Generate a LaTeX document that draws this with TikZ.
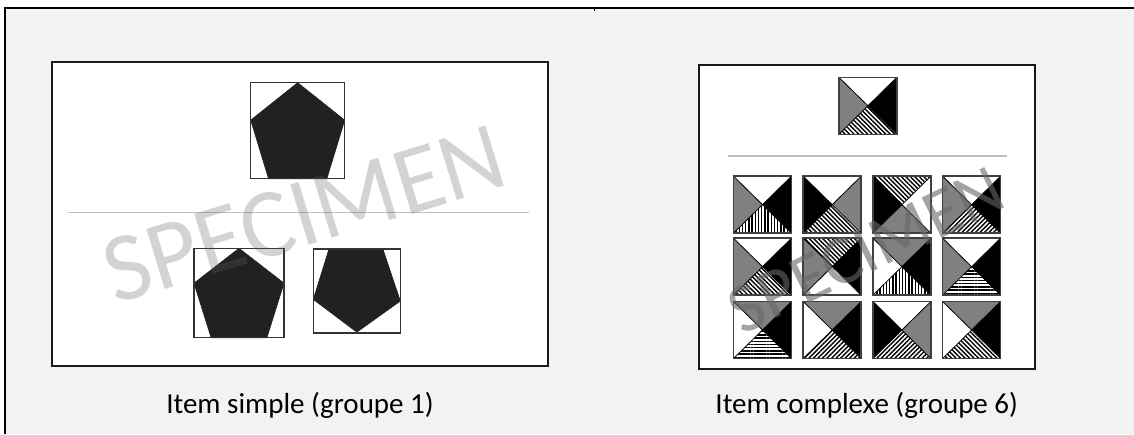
\documentclass[tikz,border=0pt]{standalone}
\usepackage{fontspec}
\setmainfont{Carlito}
\usetikzlibrary{patterns.meta}

\tikzset{
  rule/.style={line width=1.4pt, black},
  panel/.style={draw=black!90, line width=2pt, fill=white, inner sep=0pt, outer sep=0pt},
  divider/.style={line width=1.3pt, black!25},
  pentfill/.style={fill=black!87, draw=black!87, line width=0.6pt},
  pentedge/.style={draw=black!80, line width=1.3pt},
  tilebox/.style={minimum width=58pt, minimum height=57pt, inner sep=0pt, outer sep=0pt},
  tileline/.style={line width=0.8pt, black},
  tileedge/.style={draw=black!75, line width=1.5pt},
  wh/.style={fill=white}, bk/.style={fill=black}, gy/.style={fill=black!50},
  hatch/.style={preaction={fill=white}, pattern={Lines[angle=#1, distance=3.2pt, line width=1.4pt]}},
  hv/.style={hatch=90}, hh/.style={hatch=0}, hne/.style={hatch=45}, hnw/.style={hatch=-45},
  caption/.style={font=\fontsize{29}{34}\selectfont, anchor=base, inner sep=0pt},
  stamp/.style={font=\fontsize{#1}{#1}\selectfont, inner sep=0pt}
}

% tile split by its diagonals: name, centre, top, right, bottom, left
\newcommand{\quadtile}[6]{%
  \node[tilebox] (#1) at (#2) {};
  \fill[#3] (#1.north west) -- (#1.north east) -- (#1.center) -- cycle;
  \fill[#4] (#1.north east) -- (#1.south east) -- (#1.center) -- cycle;
  \fill[#5] (#1.south east) -- (#1.south west) -- (#1.center) -- cycle;
  \fill[#6] (#1.south west) -- (#1.north west) -- (#1.center) -- cycle;
  \draw[tileline] (#1.north west) -- (#1.south east) (#1.north east) -- (#1.south west);
  \draw[tileedge] (#1.north west) rectangle (#1.south east);
}

% pentagon in its box: left, top, width, height
\newcommand{\pentbox}[4]{%
  \begin{scope}[shift={(#1,#2)}, x=#3pt, y=-#4pt]
    \fill[pentfill] (0.5,0) -- (1,0.39) -- (0.81,1) -- (0.19,1) -- (0,0.39) -- cycle;
    \draw[pentedge] (0,0) rectangle (1,1);
  \end{scope}}

\begin{document}
\begin{tikzpicture}[x=1pt, y=-1pt]
  \useasboundingbox (0,0) rectangle (1134,434);

  % Table cell
  \fill[black!5] (5,8) rectangle (1134,434);
  \draw[rule] (5,434) -- (5,8) -- (1134,8);
  \draw[rule] (594.5,8) -- (594.5,11);

  % Simple item
  \node[panel, minimum width=496pt, minimum height=304pt] (simple) at (300,213.7) {};
  \pentbox{250.7}{82.7}{94}{96}
  \draw[divider] (67.7,212.3) -- (529,212.3);
  \pentbox{194}{248.3}{90}{89.4}
  \begin{scope}[shift={(313.3,249)}, x=87pt, y=-84pt]
    \fill[pentfill] (0.18,0) -- (0.8,0) -- (1,0.62) -- (0.5,0.99) -- (0,0.6) -- cycle;
    \draw[pentedge] (0,0) rectangle (1,1);
  \end{scope}
  \node[stamp=98, text=black!63, opacity=0.27, rotate=17] (mark1) at (304,214) {SPECIMEN};
  \node[caption] (simplecap) at (300,413) {Item simple (groupe 1)};

  % Complex item
  \node[panel, minimum width=335.7pt, minimum height=304.3pt] (complex) at (867.2,217.2) {};
  \quadtile{stem}{867.9,105.8}{wh}{bk}{hnw}{gy}
  \draw[divider] (728.3,156) -- (1007.3,156);
  \foreach \cx/\cy/\tp/\rt/\bt/\lf [count=\k] in {
      762.5/204.7/wh/bk/hv/gy,   832.2/204.7/wh/gy/hnw/bk,
      901.9/204.7/hnw/wh/gy/bk,  971.6/204.7/wh/bk/hne/gy,
      762.5/266.7/wh/bk/hnw/gy,  832.2/266.7/hnw/bk/wh/gy,
      901.9/266.7/gy/bk/hv/wh,   971.6/266.7/wh/bk/hh/gy,
      762.5/330/gy/bk/hh/wh,     832.2/330/gy/bk/hne/wh,
      901.9/330/wh/gy/hne/bk,    971.6/330/gy/bk/hnw/wh}
    \quadtile{opt\k}{\cx,\cy}{\tp}{\rt}{\bt}{\lf};
  \node[stamp=70, text=black!60, opacity=0.6, rotate=26] (mark2) at (866,250) {SPECIMEN};
  \node[caption] (complexcap) at (866.7,413) {Item complexe (groupe 6)};
\end{tikzpicture}
\end{document}
